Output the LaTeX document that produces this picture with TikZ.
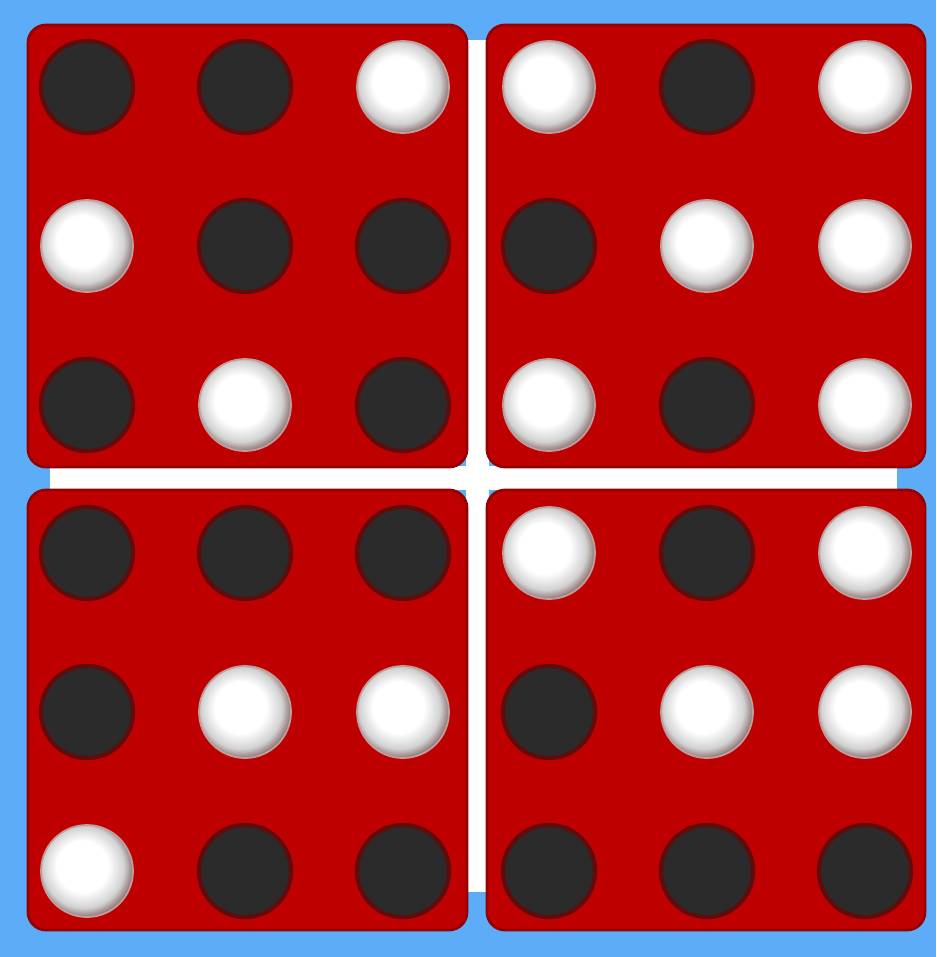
\documentclass[tikz,border=0pt]{standalone}
\usepackage{tikz}
\usetikzlibrary{positioning,calc}
\definecolor{TableBlue}{RGB}{92,172,248}
\definecolor{BoardRed}{RGB}{190,0,0}
\definecolor{BoardEdge}{RGB}{150,0,0}
\definecolor{StoneDark}{RGB}{43,43,43}
\definecolor{StoneRim}{RGB}{95,12,12}
\definecolor{StoneShade}{RGB}{210,210,210}
\definecolor{StoneEdge}{RGB}{140,110,110}
\pgfdeclareradialshading{stonewhite}{\pgfpoint{-3.5bp}{3.5bp}}{%
  color(0bp)=(white); color(14bp)=(white); color(22bp)=(StoneShade);
  color(27bp)=(StoneEdge); color(50bp)=(StoneEdge)}

\begin{document}
\begin{tikzpicture}[
    x=0.1mm, y=-0.1mm,
    board/.style={fill=BoardRed, draw=BoardEdge, line width=0.8pt,
                  rounded corners=1.8mm},
    bar/.style={fill=white, draw=none},
    dark/.style={circle, inner sep=0pt, minimum size=9.2mm,
                 fill=StoneDark, draw=StoneRim, line width=1.2pt},
    light/.style={circle, inner sep=0pt, minimum size=9.2mm,
                  shading=stonewhite, draw=StoneRim!40, line width=0.5pt}
  ]
    \fill[TableBlue] (0,0) rectangle (936,957);

    % cross between the quadrants
    \fill[bar] (466,40) rectangle (489,892);
    \fill[bar] (50,466) rectangle (897,490);

    % quadrants
    \draw[board] (28,25) rectangle (467,467);
    \draw[board] (487,25) rectangle (925,467);
    \draw[board] (28,490) rectangle (467,930);
    \draw[board] (487,490) rectangle (925,930);

    % stones, row by row
    \foreach \q/\ox/\oy/\stones in {
        tl/87/87/{dark,dark,light,light,dark,dark,dark,light,dark},
        tr/549/87/{light,dark,light,dark,light,light,light,dark,light},
        bl/87/553/{dark,dark,dark,dark,light,light,light,dark,dark},
        br/549/553/{light,dark,light,dark,light,light,dark,dark,dark}}
    {
      \foreach \s [count=\i from 0] in \stones {
        \pgfmathsetmacro\px{\ox+mod(\i,3)*158}
        \pgfmathsetmacro\py{\oy+int(\i/3)*159}
        \node[\s] (\q\i) at (\px,\py) {};
      }
    }
  \end{tikzpicture}
\end{document}
